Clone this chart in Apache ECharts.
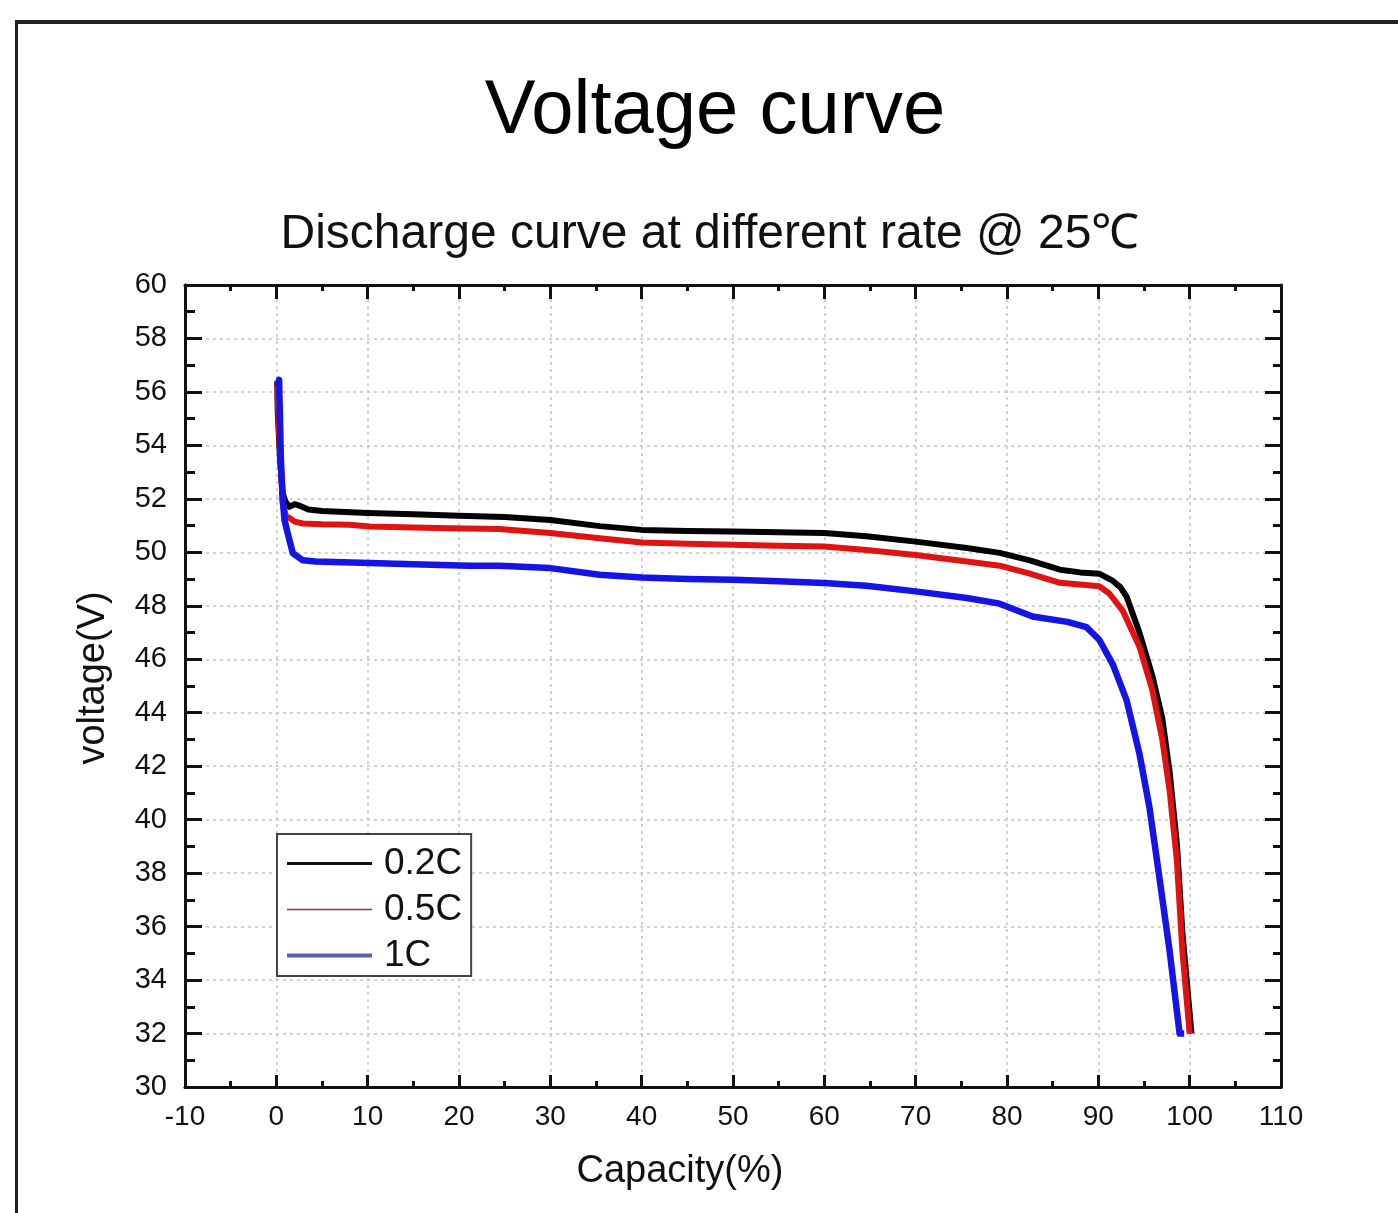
<!DOCTYPE html>
<html>
<head>
<meta charset="utf-8">
<script src="https://cdn.jsdelivr.net/npm/echarts@6/dist/echarts.min.js"></script>
<style>
html,body{margin:0;padding:0;background:#fff;}
#chart{width:1398px;height:1213px;}
</style>
</head>
<body>
<div id="chart"></div>
<script>
// ---------- data ----------
const titleText = 'Voltage curve';
const subtitleText = 'Discharge curve at different rate @ 25\u2103';
const xAxisName = 'Capacity(%)';
const yAxisName = 'voltage(V)';
const seriesNames = ['0.2C', '0.5C', '1C'];

const xTicks = [-10, 0, 10, 20, 30, 40, 50, 60, 70, 80, 90, 100, 110];
const yTicks = [30, 32, 34, 36, 38, 40, 42, 44, 46, 48, 50, 52, 54, 56, 58, 60];

// 0.2C
const cap02 = [0.1, 0.15, 0.4, 0.7, 1.0, 1.4, 2.0, 2.5, 3.5, 5, 10, 15, 20, 25, 30, 35.4, 40, 45, 50, 55, 60, 64.6, 70, 75.6, 79.2, 82.5, 85.8, 88, 90.1, 91.6, 92.4, 93.1, 94.5, 95.9, 97.0, 97.8, 98.6, 99.2, 100.2];
const volt02 = [56.4, 55.3, 53.5, 52.2, 51.9, 51.7, 51.8, 51.75, 51.6, 51.55, 51.47, 51.42, 51.37, 51.32, 51.21, 50.98, 50.84, 50.8, 50.78, 50.75, 50.72, 50.6, 50.4, 50.16, 49.98, 49.7, 49.35, 49.25, 49.2, 48.93, 48.7, 48.34, 47.0, 45.4, 43.8, 41.8, 39.1, 35.8, 32.0];

// 0.5C
const cap05 = [0.1, 0.3, 0.7, 1.06, 1.4, 2.0, 2.9, 5, 8, 10.2, 15, 19, 24.4, 30, 35.4, 40, 45, 50, 55, 60, 64.6, 70, 75.6, 79.2, 82.5, 85.8, 88, 90.1, 91.2, 92.7, 94.5, 95.9, 97.0, 97.8, 98.6, 99.2, 100.0];
const volt05 = [56.3, 54.5, 51.85, 51.34, 51.3, 51.15, 51.08, 51.05, 51.03, 50.97, 50.93, 50.9, 50.87, 50.72, 50.53, 50.37, 50.32, 50.28, 50.25, 50.22, 50.09, 49.9, 49.66, 49.5, 49.2, 48.86, 48.8, 48.73, 48.46, 47.8, 46.47, 44.86, 43.0, 41.1, 38.47, 35.1, 32.0];

// 1C
const cap1 = [0.1, 0.3, 0.5, 0.7, 0.9, 1.24, 1.8, 2.9, 4.3, 10.2, 15, 21.1, 24.4, 30, 35.4, 40, 45, 50, 55, 60, 64.6, 70, 75.6, 79.2, 82.8, 86.6, 88.7, 90.1, 91.6, 93.1, 94.5, 95.6, 96.7, 97.8, 98.9, 99.4];
const volt1 = [56.2, 56.45, 53.46, 51.96, 51.2, 50.72, 49.97, 49.7, 49.66, 49.6, 49.55, 49.5, 49.5, 49.41, 49.16, 49.06, 49.0, 48.97, 48.92, 48.85, 48.75, 48.54, 48.29, 48.08, 47.6, 47.4, 47.2, 46.73, 45.8, 44.46, 42.47, 40.45, 37.8, 35.1, 32.0, 32.0];

// ---------- chart ----------
const zip = (xs, ys) => xs.map((x, i) => [x, ys[i]]);
const FONT = '"Liberation Sans", Arial, sans-serif';
const chart = echarts.init(document.getElementById('chart'), null, {renderer: 'canvas'});

const tickLine = {color: '#111', width: 3};
const axisLineStyle = {show: true, onZero: false, lineStyle: {color: '#111', width: 3}};
const gridLine = {show: true, lineStyle: {color: '#c4c4c4', width: 1.5, type: [3, 4]}};
const hiddenSymbol = {color: 'rgba(0,0,0,0)', borderWidth: 0, opacity: 0};

const option = {
  animation: false,
  backgroundColor: '#ffffff',
  title: [
    {text: titleText, left: 715, top: 74, textAlign: 'center', padding: 0,
     textStyle: {fontFamily: FONT, fontSize: 76, fontWeight: 'normal', color: '#000', lineHeight: 76}},
    {text: subtitleText, left: 710, top: 211, textAlign: 'center', padding: 0,
     textStyle: {fontFamily: FONT, fontSize: 48, fontWeight: 'normal', color: '#111', lineHeight: 48}}
  ],
  grid: {left: 185, right: 117, top: 285, bottom: 126, containLabel: false},
  legend: {
    orient: 'vertical',
    left: 277, top: 834,
    padding: [11, 9, 2, 8],
    backgroundColor: '#fff',
    borderColor: '#444',
    borderWidth: 2,
    itemWidth: 85,
    itemHeight: 30,
    itemGap: 9,
    textStyle: {fontFamily: FONT, fontSize: 37, color: '#111', padding: [0, 0, 0, 7]},
    data: [
      {name: seriesNames[0], lineStyle: {color: '#111', width: 3}, itemStyle: hiddenSymbol},
      {name: seriesNames[1], lineStyle: {color: '#8a3a3a', width: 1.5}, itemStyle: hiddenSymbol},
      {name: seriesNames[2], lineStyle: {color: '#5a64a8', width: 4}, itemStyle: hiddenSymbol}
    ]
  },
  xAxis: [
    {
      type: 'value', position: 'bottom',
      min: xTicks[0], max: xTicks[xTicks.length - 1], interval: xTicks[1] - xTicks[0],
      axisLine: axisLineStyle,
      axisTick: {show: true, inside: true, length: 12, lineStyle: tickLine},
      minorTick: {show: true, splitNumber: 2, length: 6, lineStyle: tickLine},
      axisLabel: {show: true, margin: 16, fontFamily: FONT, fontSize: 28, color: '#111',
                  formatter: v => String(v)},
      splitLine: gridLine,
      name: xAxisName, nameLocation: 'middle', nameGap: 66,
      nameTextStyle: {fontFamily: FONT, fontSize: 38, color: '#111', padding: [0, 106, 0, 0]}
    },
    {
      type: 'value', position: 'top',
      min: xTicks[0], max: xTicks[xTicks.length - 1], interval: xTicks[1] - xTicks[0],
      axisLine: axisLineStyle,
      axisTick: {show: true, inside: true, length: 14, lineStyle: tickLine},
      minorTick: {show: true, splitNumber: 2, length: 6, lineStyle: tickLine},
      axisLabel: {show: false},
      splitLine: {show: false}
    }
  ],
  yAxis: [
    {
      type: 'value', position: 'left',
      min: yTicks[0], max: yTicks[yTicks.length - 1], interval: yTicks[1] - yTicks[0],
      axisLine: axisLineStyle,
      axisTick: {show: true, inside: true, length: 17, lineStyle: tickLine},
      minorTick: {show: true, splitNumber: 2, length: 10, lineStyle: tickLine},
      axisLabel: {show: true, margin: 18, fontFamily: FONT, fontSize: 29, color: '#111'},
      splitLine: gridLine,
      name: yAxisName, nameLocation: 'middle', nameGap: 72,
      nameTextStyle: {fontFamily: FONT, fontSize: 38, color: '#111', padding: [0, 0, 0, 16]}
    },
    {
      type: 'value', position: 'right',
      min: yTicks[0], max: yTicks[yTicks.length - 1], interval: yTicks[1] - yTicks[0],
      axisLine: axisLineStyle,
      axisTick: {show: true, inside: true, length: 16, lineStyle: tickLine},
      minorTick: {show: true, splitNumber: 2, length: 8, lineStyle: tickLine},
      axisLabel: {show: false},
      splitLine: {show: false}
    }
  ],
  series: [
    {name: seriesNames[0], type: 'line', xAxisIndex: 0, yAxisIndex: 0, data: zip(cap02, volt02),
     showSymbol: false, symbol: 'none', smooth: false,
     lineStyle: {color: '#000', width: 6, join: 'round'}, itemStyle: {color: '#000'}, z: 3},
    {name: seriesNames[1], type: 'line', xAxisIndex: 0, yAxisIndex: 0, data: zip(cap05, volt05),
     showSymbol: false, symbol: 'none', smooth: false,
     lineStyle: {color: '#e01212', width: 6, join: 'round'}, itemStyle: {color: '#e01212'}, z: 4},
    {name: seriesNames[2], type: 'line', xAxisIndex: 0, yAxisIndex: 0, data: zip(cap1, volt1),
     showSymbol: false, symbol: 'none', smooth: false,
     lineStyle: {color: '#1414e6', width: 6.5, join: 'round'}, itemStyle: {color: '#1414e6'}, z: 5}
  ],
  graphic: [
    {type: 'line', silent: true, shape: {x1: 15, y1: 22, x2: 1398, y2: 22}, style: {stroke: '#222', lineWidth: 4}},
    {type: 'line', silent: true, shape: {x1: 16.5, y1: 20, x2: 16.5, y2: 1213}, style: {stroke: '#222', lineWidth: 3}}
  ]
};
chart.setOption(option);
</script>
</body>
</html>
